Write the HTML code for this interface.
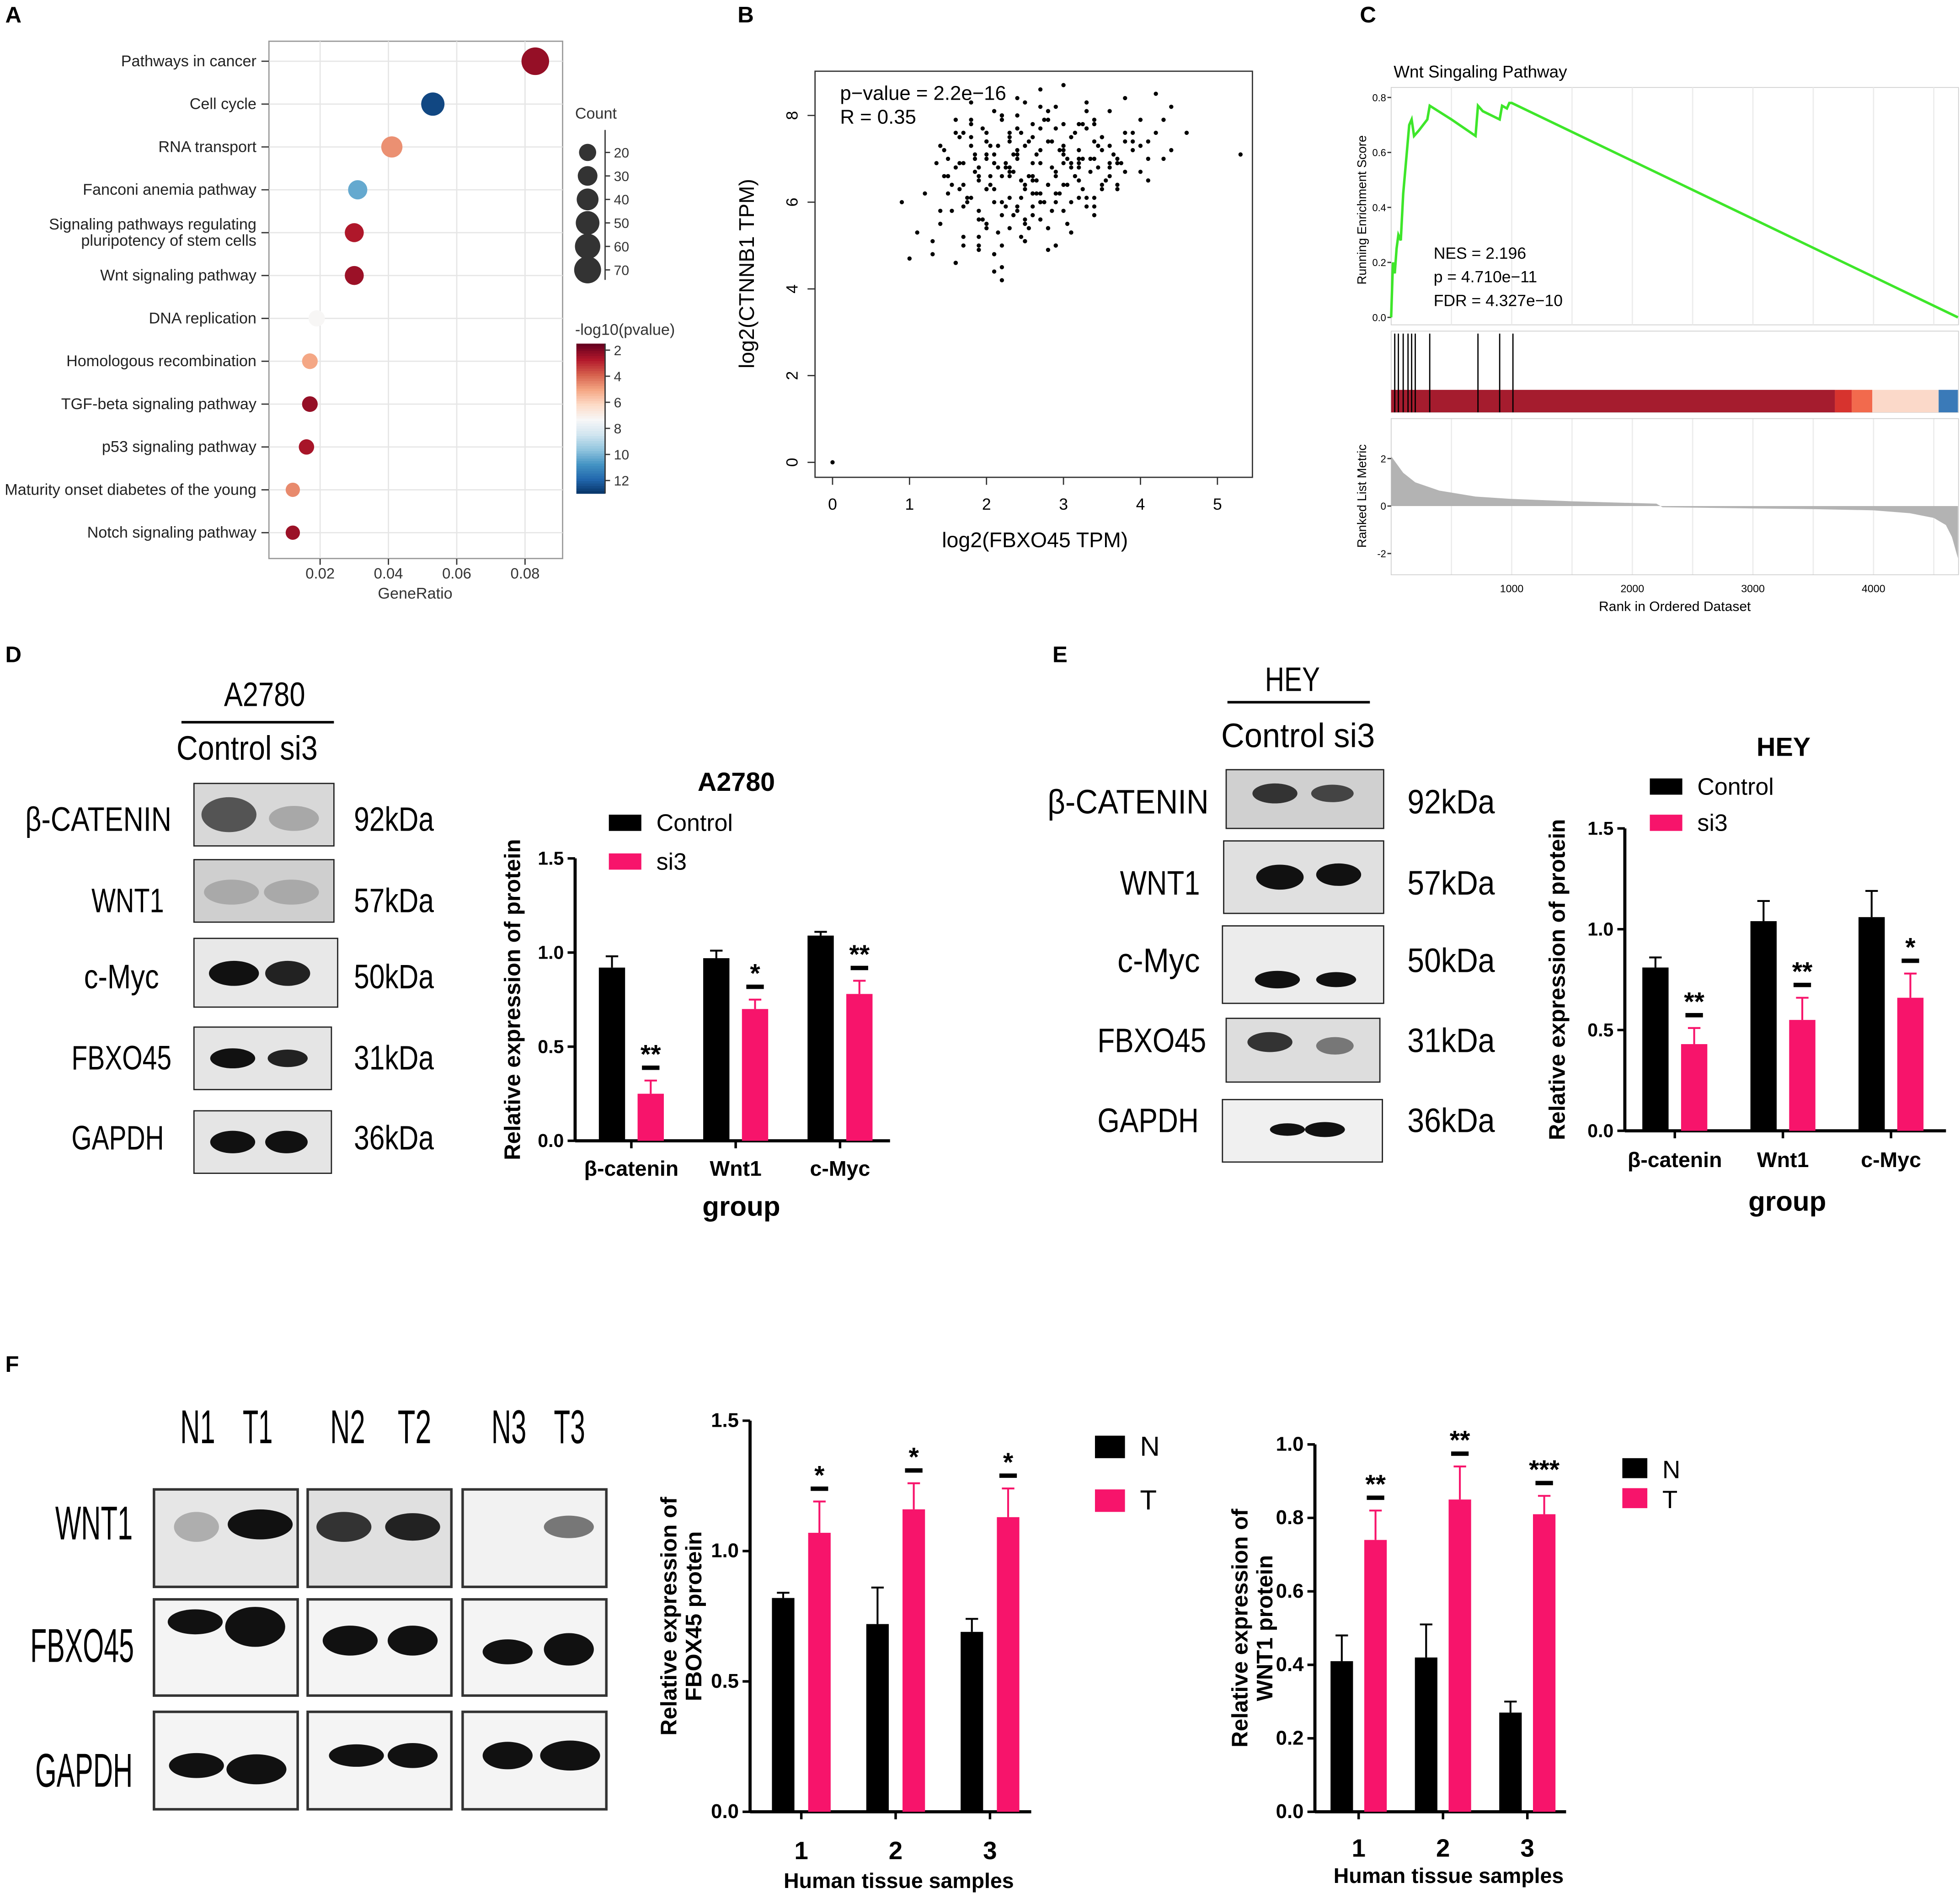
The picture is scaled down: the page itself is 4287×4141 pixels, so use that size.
<!DOCTYPE html>
<html><head><meta charset="utf-8">
<style>
html,body{margin:0;padding:0;background:#fff;}
svg{display:block;font-family:"Liberation Sans",sans-serif;}
.pl{font-weight:bold;font-size:18px;}
.blot{font-family:"Liberation Sans",sans-serif;font-size:27px;}
</style></head>
<body>
<svg id="fig" width="4287" height="4141" viewBox="0 0 1568 1515" xmlns="http://www.w3.org/2000/svg">
<text class="pl" x="4" y="18">A</text>
<text class="pl" x="590" y="18">B</text>
<text class="pl" x="1088" y="18">C</text>
<text class="pl" x="4" y="530">D</text>
<text class="pl" x="842" y="530">E</text>
<text class="pl" x="4" y="1098">F</text>
<g id="gA"></g>
<g id="gB"></g>
<g id="gC"></g>

<!-- D blots -->
<g class="blot">
<text x="179" y="565" textLength="65" lengthAdjust="spacingAndGlyphs">A2780</text>
<line x1="145" y1="578" x2="267" y2="578" stroke="#000" stroke-width="2"/>
<text x="141" y="608" textLength="113" lengthAdjust="spacingAndGlyphs">Control si3</text>
<text x="20" y="665" textLength="117" lengthAdjust="spacingAndGlyphs">β-CATENIN</text>
<text x="73" y="730" textLength="58" lengthAdjust="spacingAndGlyphs">WNT1</text>
<text x="67" y="791" textLength="60" lengthAdjust="spacingAndGlyphs">c-Myc</text>
<text x="57" y="856" textLength="80" lengthAdjust="spacingAndGlyphs">FBXO45</text>
<text x="57" y="920" textLength="74" lengthAdjust="spacingAndGlyphs">GAPDH</text>
<text x="283" y="665" textLength="64" lengthAdjust="spacingAndGlyphs">92kDa</text>
<text x="283" y="730" textLength="64" lengthAdjust="spacingAndGlyphs">57kDa</text>
<text x="283" y="791" textLength="64" lengthAdjust="spacingAndGlyphs">50kDa</text>
<text x="283" y="856" textLength="64" lengthAdjust="spacingAndGlyphs">31kDa</text>
<text x="283" y="920" textLength="64" lengthAdjust="spacingAndGlyphs">36kDa</text>
<rect x="155" y="627" width="112" height="50" fill="#d8d8d8" stroke="#222"/>
<ellipse cx="183" cy="652" rx="22" ry="14" fill="#333" opacity="0.8"/><ellipse cx="235" cy="655" rx="20" ry="10" fill="#777" opacity="0.5"/>
<rect x="155" y="688" width="112" height="50" fill="#cfcfcf" stroke="#222"/>
<ellipse cx="185" cy="714" rx="22" ry="10" fill="#999" opacity="0.7"/><ellipse cx="233" cy="714" rx="22" ry="10" fill="#999" opacity="0.7"/>
<rect x="155" y="751" width="115" height="55" fill="#e8e8e8" stroke="#222"/>
<ellipse cx="187" cy="779" rx="20" ry="10" fill="#111"/><ellipse cx="230" cy="779" rx="18" ry="10" fill="#222"/>
<rect x="155" y="822" width="110" height="50" fill="#e5e5e5" stroke="#222"/>
<ellipse cx="186" cy="847" rx="18" ry="8" fill="#111"/><ellipse cx="230" cy="847" rx="16" ry="7" fill="#222"/>
<rect x="155" y="889" width="110" height="50" fill="#e5e5e5" stroke="#222"/>
<ellipse cx="186" cy="914" rx="18" ry="9" fill="#111"/><ellipse cx="229" cy="914" rx="17" ry="9" fill="#111"/>
</g>
<!-- E blots -->
<g class="blot">
<text x="1012" y="553" textLength="44" lengthAdjust="spacingAndGlyphs">HEY</text>
<line x1="982" y1="562" x2="1096" y2="562" stroke="#000" stroke-width="2"/>
<text x="977" y="598" textLength="123" lengthAdjust="spacingAndGlyphs">Control si3</text>
<text x="838" y="651" textLength="129" lengthAdjust="spacingAndGlyphs">β-CATENIN</text>
<text x="896" y="716" textLength="64" lengthAdjust="spacingAndGlyphs">WNT1</text>
<text x="894" y="778" textLength="66" lengthAdjust="spacingAndGlyphs">c-Myc</text>
<text x="878" y="842" textLength="87" lengthAdjust="spacingAndGlyphs">FBXO45</text>
<text x="878" y="906" textLength="81" lengthAdjust="spacingAndGlyphs">GAPDH</text>
<text x="1126" y="651" textLength="70" lengthAdjust="spacingAndGlyphs">92kDa</text>
<text x="1126" y="716" textLength="70" lengthAdjust="spacingAndGlyphs">57kDa</text>
<text x="1126" y="778" textLength="70" lengthAdjust="spacingAndGlyphs">50kDa</text>
<text x="1126" y="842" textLength="70" lengthAdjust="spacingAndGlyphs">31kDa</text>
<text x="1126" y="906" textLength="70" lengthAdjust="spacingAndGlyphs">36kDa</text>
<rect x="981" y="616" width="126" height="47" fill="#d0d0d0" stroke="#222"/>
<ellipse cx="1020" cy="635" rx="18" ry="8" fill="#333"/><ellipse cx="1066" cy="635" rx="17" ry="7" fill="#444"/>
<rect x="979" y="673" width="128" height="58" fill="#e0e0e0" stroke="#222"/>
<ellipse cx="1024" cy="702" rx="19" ry="10" fill="#111"/><ellipse cx="1071" cy="700" rx="18" ry="9" fill="#111"/>
<rect x="978" y="741" width="129" height="62" fill="#ececec" stroke="#222"/>
<ellipse cx="1022" cy="784" rx="18" ry="7" fill="#111"/><ellipse cx="1069" cy="784" rx="16" ry="6" fill="#111"/>
<rect x="981" y="815" width="123" height="51" fill="#dddddd" stroke="#222"/>
<ellipse cx="1016" cy="834" rx="18" ry="8" fill="#333"/><ellipse cx="1068" cy="837" rx="15" ry="7" fill="#777"/>
<rect x="978" y="880" width="128" height="50" fill="#f0f0f0" stroke="#222"/>
<ellipse cx="1030" cy="904" rx="14" ry="5" fill="#111"/><ellipse cx="1060" cy="904" rx="16" ry="6" fill="#111"/>
</g>
<!-- F blots -->
<g class="blot" style="font-size:38px">
<text x="144" y="1155" textLength="28" lengthAdjust="spacingAndGlyphs">N1</text><text x="194" y="1155" textLength="24" lengthAdjust="spacingAndGlyphs">T1</text>
<text x="264" y="1155" textLength="28" lengthAdjust="spacingAndGlyphs">N2</text><text x="318" y="1155" textLength="27" lengthAdjust="spacingAndGlyphs">T2</text>
<text x="393" y="1155" textLength="28" lengthAdjust="spacingAndGlyphs">N3</text><text x="443" y="1155" textLength="25" lengthAdjust="spacingAndGlyphs">T3</text>
<text x="44" y="1232" textLength="62" lengthAdjust="spacingAndGlyphs">WNT1</text>
<text x="24" y="1330" textLength="83" lengthAdjust="spacingAndGlyphs">FBXO45</text>
<text x="28" y="1430" textLength="78" lengthAdjust="spacingAndGlyphs">GAPDH</text>
<rect x="123" y="1192" width="115" height="78" fill="#e6e6e6" stroke="#333" stroke-width="2"/>
<rect x="246" y="1192" width="115" height="78" fill="#e0e0e0" stroke="#333" stroke-width="2"/>
<rect x="370" y="1192" width="115" height="78" fill="#f2f2f2" stroke="#333" stroke-width="2"/>
<ellipse cx="157" cy="1222" rx="18" ry="12" fill="#888" opacity="0.6"/><ellipse cx="208" cy="1220" rx="26" ry="12" fill="#111"/>
<ellipse cx="275" cy="1222" rx="22" ry="12" fill="#333"/><ellipse cx="330" cy="1222" rx="22" ry="11" fill="#222"/>
<ellipse cx="455" cy="1222" rx="20" ry="9" fill="#777"/>
<rect x="123" y="1280" width="115" height="77" fill="#f4f4f4" stroke="#333" stroke-width="2"/>
<rect x="246" y="1280" width="115" height="77" fill="#f4f4f4" stroke="#333" stroke-width="2"/>
<rect x="370" y="1280" width="115" height="77" fill="#f4f4f4" stroke="#333" stroke-width="2"/>
<ellipse cx="156" cy="1298" rx="22" ry="10" fill="#111"/><ellipse cx="204" cy="1302" rx="24" ry="16" fill="#111"/>
<ellipse cx="280" cy="1313" rx="22" ry="12" fill="#111"/><ellipse cx="330" cy="1313" rx="20" ry="12" fill="#111"/>
<ellipse cx="406" cy="1322" rx="20" ry="10" fill="#111"/><ellipse cx="455" cy="1320" rx="20" ry="13" fill="#111"/>
<rect x="123" y="1370" width="115" height="78" fill="#f4f4f4" stroke="#333" stroke-width="2"/>
<rect x="246" y="1370" width="115" height="78" fill="#f4f4f4" stroke="#333" stroke-width="2"/>
<rect x="370" y="1370" width="115" height="78" fill="#f4f4f4" stroke="#333" stroke-width="2"/>
<ellipse cx="157" cy="1413" rx="22" ry="10" fill="#111"/><ellipse cx="205" cy="1416" rx="24" ry="12" fill="#111"/>
<ellipse cx="285" cy="1405" rx="22" ry="9" fill="#111"/><ellipse cx="330" cy="1405" rx="20" ry="10" fill="#111"/>
<ellipse cx="406" cy="1405" rx="20" ry="11" fill="#111"/><ellipse cx="456" cy="1405" rx="24" ry="12" fill="#111"/>
</g>
<g id="gD"></g>
<g id="gE"></g>
<g id="gF1"></g>
<g id="gF2"></g>
</svg>
<script>
const NS="http://www.w3.org/2000/svg";
function mk(tag,attrs,parent,txt){const e=document.createElementNS(NS,tag);for(const k in attrs)e.setAttribute(k,attrs[k]);if(txt!==undefined)e.textContent=txt;parent.appendChild(e);return e;}

// ---------- Panel A data ----------
const aPathways=["Pathways in cancer","Cell cycle","RNA transport","Fanconi anemia pathway","Signaling pathways regulating|pluripotency of stem cells","Wnt signaling pathway","DNA replication","Homologous recombination","TGF-beta signaling pathway","p53 signaling pathway","Maturity onset diabetes of the young","Notch signaling pathway"];
const aGeneRatio=[0.083,0.053,0.041,0.031,0.030,0.030,0.019,0.017,0.017,0.016,0.012,0.012];
const aCount=[75,48,37,28,27,27,17,15,15,14,11,11];
const aLogP=[2.2,12.5,4.6,10.2,2.6,2.3,7.2,5.0,2.2,2.5,4.5,2.3];
const aXTicks=[0.02,0.04,0.06,0.08];
const aCountTicks=[20,30,40,50,60,70];
const aColorTicks=[2,4,6,8,10,12];
(function(){
 const g=document.getElementById('gA');
 const x=v=>201.3+v*2733, y=i=>49+i*34.3, r=c=>2.4+Math.sqrt(c)*1.0;
 const cols=[[103,0,31],[178,24,43],[214,96,77],[244,165,130],[253,219,199],[247,247,247],[209,229,240],[146,197,222],[67,147,195],[33,102,172],[5,48,97]];
 const cmap=v=>{let t=Math.max(0,Math.min(1,(v-1.5)/11.5))*(cols.length-1);const i=Math.min(cols.length-2,Math.floor(t)),f=t-i;const c=cols[i].map((a,k)=>Math.round(a+(cols[i+1][k]-a)*f));return `rgb(${c})`;};
 mk('rect',{x:215,y:33,width:235,height:414,fill:'#fff',stroke:'#999','stroke-width':1},g);
 aPathways.forEach((p,i)=>{mk('line',{x1:215,x2:450,y1:y(i),y2:y(i),stroke:'#e6e6e6'},g);});
 aXTicks.forEach(t=>{mk('line',{x1:x(t),x2:x(t),y1:33,y2:447,stroke:'#e6e6e6'},g);
  mk('line',{x1:x(t),x2:x(t),y1:447,y2:452,stroke:'#333'},g);
  const tl=mk('text',{x:x(t),y:463,'font-size':12,'text-anchor':'middle',fill:'#333'},g,String(t));
  
  });
 const xt=mk('text',{x:332,y:479,'font-size':12.5,'text-anchor':'middle',fill:'#333'},g,'GeneRatio');
 
 
 aPathways.forEach((p,i)=>{
  const parts=p.split('|');
  parts.forEach((s,k)=>{const t=mk('text',{x:205,y:y(i)+4+(parts.length>1?(k-0.5)*13:0),'font-size':12.5,'text-anchor':'end',fill:'#222'},g,s);
   
   });
  mk('line',{x1:209,x2:215,y1:y(i),y2:y(i),stroke:'#333'},g);
  const c=mk('circle',{cx:x(aGeneRatio[i]),cy:y(i),r:r(aCount[i]),fill:cmap(aLogP[i])},g);
  
  
 });
 mk('text',{x:460,y:95,'font-size':12.5,fill:'#333'},g,'Count');
 aCountTicks.forEach((c,i)=>{const yy=122+i*18.8;
  const d=mk('circle',{cx:470,cy:yy,r:r(c),fill:'#333'},g);
  
  
  mk('line',{x1:484,x2:488,y1:yy,y2:yy,stroke:'#333'},g);
  mk('text',{x:491,y:yy+4,'font-size':11,fill:'#333'},g,String(c));});
 mk('line',{x1:484,x2:484,y1:104,y2:224,stroke:'#333'},g);
 mk('text',{x:460,y:268,'font-size':12.5,fill:'#333'},g,'-log10(pvalue)');
 for(let k=0;k<60;k++){const v=1.5+k*(11.5/60);mk('rect',{x:461,y:275+k*2,width:23,height:2.2,fill:cmap(v)},g);}
 aColorTicks.forEach(v=>{const yy=275+(v-1.5)/11.5*120;mk('line',{x1:484,x2:488,y1:yy,y2:yy,stroke:'#333'},g);
  mk('text',{x:491,y:yy+4,'font-size':11,fill:'#333'},g,String(v));});
 mk('line',{x1:484,x2:484,y1:275,y2:395,stroke:'#333'},g);
})();

// ---------- Panel B data ----------
const bFBXO45=[0,5.3,1.2,1.4,1.5,1.6,1.7,1.8,1.9,2.0,2.1,2.2,2.3,2.4,2.5,2.6,2.7,2.8,2.9,3.0,3.1,3.2,3.3,3.4,3.5,3.6,3.7,3.8,3.9,4.0,1.3,1.6,1.9,2.2,2.5,2.8,3.1,3.4,3.7,4.0,1.5,1.8,2.1,2.4,2.7,3.0,3.3,3.6,3.9,4.2,1.7,2.0,2.3,2.6,2.9,3.2,3.5,3.8,4.1,4.4,0.9,1.1,1.4,1.7,2.0,2.3,2.6,2.9,3.2,3.5,1.6,1.9,2.2,2.5,2.8,3.1,3.4,3.7,1.8,2.1,2.4,2.7,3.0,3.3,3.6,2.0,2.3,2.6,2.9,3.2,3.5,2.2,2.5,2.8,3.1,3.4,2.4,2.7,3.0,1.0,1.3,2.1,2.9,3.7,4.3,4.6,2.6,1.5,2.0,3.8,2.3,2.8,1.9,3.3,2.5,1.7,3.0,2.2,2.7,3.6,1.4,4.1,2.0,2.4,3.1,1.8,2.6,3.4,2.9,2.1,
 1.35,1.45,1.55,1.65,1.75,1.85,1.95,2.05,2.15,2.25,2.35,2.45,2.55,2.65,2.75,2.85,2.95,3.05,3.15,3.25,3.35,3.45,3.55,3.65,3.75,1.55,1.65,1.75,1.85,1.95,2.05,2.15,2.25,2.35,2.45,2.55,2.65,2.75,2.85,2.95,3.05,3.15,3.25,3.35,3.45,1.6,1.8,2.0,2.2,2.4,2.6,2.8,3.0,3.2,3.4,1.7,1.9,2.1,2.3,2.5,2.7,2.9,3.1,3.3,1.85,2.05,2.25,2.45,2.65,2.85,3.05,3.25,1.45,1.65,1.9,2.1,2.35,2.55,2.8,3.0,3.2,2.0,2.2,2.4,2.6,2.8,3.0,2.3,2.5,2.7,2.9,1.6,1.8,2.0,2.2,2.4,2.6,1.5,1.7,1.9,2.1,2.3,2.5,2.7,3.5,3.7,3.9,4.1,4.3,3.6,3.8,4.0,4.2,4.4,3.2,3.4,2.2,2.45,2.7,1.9,2.15,2.4];
const bCTNNB1=[0,7.1,6.2,5.5,7.0,6.8,5.9,7.3,6.5,7.6,6.0,7.9,6.7,7.2,6.3,7.8,6.9,7.4,6.6,7.1,7.5,6.8,7.7,7.0,6.4,7.3,6.9,7.6,7.2,6.7,4.8,4.6,5.2,5.0,5.6,5.4,6.0,5.9,6.3,7.9,6.6,6.1,6.9,5.8,6.2,6.4,6.1,6.8,7.4,8.5,7.6,7.1,7.4,6.9,7.7,7.8,7.2,8.4,7.0,7.2,6.0,5.3,5.8,6.4,5.5,6.1,5.9,6.7,6.5,6.3,4.6,4.9,4.5,5.1,4.9,5.3,5.7,6.9,7.9,8.1,8.0,8.2,7.8,8.3,8.1,7.0,6.6,6.2,6.0,6.9,7.5,5.7,5.5,6.4,6.8,7.9,8.4,8.6,7.3,4.7,5.1,4.4,5.0,6.4,7.0,7.6,6.2,6.6,5.4,7.4,7.6,7.9,5.8,8.1,8.3,5.0,8.7,4.2,6.0,6.6,7.3,6.5,6.3,7.1,6.9,7.5,6.6,7.8,6.2,6.9,
 6.9,7.2,6.4,7.5,6.1,7.0,7.7,6.6,7.3,5.9,7.1,6.5,7.4,6.2,7.9,6.8,7.2,6.4,7.6,7.0,6.7,7.3,6.5,7.1,6.9,5.8,6.3,6.0,6.7,5.6,6.4,5.3,6.8,5.7,6.1,5.4,6.5,6.0,5.8,6.2,5.5,6.6,6.3,7.0,6.8,7.6,7.8,7.4,8.0,7.7,7.5,8.1,7.2,7.0,7.4,5.2,5.0,4.8,5.4,5.1,5.6,5.0,5.3,5.9,7.1,7.3,6.9,7.6,7.1,7.4,7.0,7.8,6.6,6.9,6.8,6.3,6.7,6.6,6.4,6.9,6.1,6.3,6.0,5.9,5.7,5.4,5.8,7.5,7.3,7.7,8.2,7.9,8.3,7.4,8.0,7.7,6.5,6.2,6.9,6.6,7.1,6.8,6.4,7.2,7.5,7.0,7.6,7.4,7.9,6.9,6.7,7.3,7.6,8.2,7.2,6.1,6.6,5.2,6.0,5.6,6.8,7.0];
const bXTicks=[0,1,2,3,4,5];
const bYTicks=[0,2,4,6,8];
(function(){
 const g=document.getElementById('gB');
 const x=v=>666+v*61.6, y=v=>370-v*34.7;
 mk('rect',{x:652,y:57,width:350,height:325,fill:'none',stroke:'#333'},g);
 bXTicks.forEach(t=>{mk('line',{x1:x(t),x2:x(t),y1:382,y2:388,stroke:'#333'},g);mk('text',{x:x(t),y:408,'font-size':13,'text-anchor':'middle'},g,String(t));});
 bYTicks.forEach(t=>{mk('line',{x1:646,x2:652,y1:y(t),y2:y(t),stroke:'#333'},g);mk('text',{x:634,y:y(t),'font-size':13,'text-anchor':'middle',transform:`rotate(-90 634 ${y(t)})`,dy:4},g,String(t));});
 bFBXO45.forEach((v,i)=>{const c=mk('circle',{cx:x(v),cy:y(bCTNNB1[i]),r:1.7,fill:'#000'},g);
  
  });
 mk('text',{x:672,y:80,'font-size':16},g,'p−value = 2.2e−16');
 mk('text',{x:672,y:99,'font-size':16},g,'R = 0.35');
 const xl=mk('text',{x:828,y:438,'font-size':17,'text-anchor':'middle'},g,'log2(FBXO45 TPM)');
 
 
 const yl=mk('text',{x:603,y:219,'font-size':17,'text-anchor':'middle',transform:'rotate(-90 603 219)'},g,'log2(CTNNB1 TPM)');
 
 
})();

// ---------- Panel C data ----------
const cRank=[0,15,30,45,60,80,100,130,150,170,190,230,300,320,500,700,720,760,900,920,960,980,1000,4700];
const cES=[0,0.2,0.16,0.25,0.3,0.28,0.45,0.6,0.7,0.72,0.66,0.68,0.72,0.77,0.72,0.66,0.77,0.75,0.72,0.77,0.76,0.78,0.78,0.0];
const cHits=[30,60,100,140,170,200,320,720,900,1010];
const cMetricRank=[0,100,200,400,700,1000,1500,2200,2250,3000,3500,4000,4300,4500,4600,4650,4700];
const cMetric=[2.1,1.4,1.0,0.65,0.4,0.3,0.2,0.1,-0.05,-0.1,-0.13,-0.18,-0.3,-0.5,-0.8,-1.3,-2.2];
const cRankTicks=[1000,2000,3000,4000];
const cESTicks=[0,0.2,0.4,0.6,0.8];
(function(){
 const g=document.getElementById('gC');
 const x=v=>1113+v*0.0965, y=v=>254-v*220, ym=v=>405-v*19;
 mk('text',{x:1115,y:62,'font-size':13.5},g,'Wnt Singaling Pathway');
 mk('rect',{x:1113,y:70,width:454,height:190,fill:'#fff',stroke:'#ccc','stroke-width':0.6},g);
 for(let r=500;r<4700;r+=500){mk('line',{x1:x(r),x2:x(r),y1:70,y2:260,stroke:'#ececec'},g);mk('line',{x1:x(r),x2:x(r),y1:335,y2:460,stroke:'#ececec'},g);}
 cESTicks.forEach(t=>{mk('line',{x1:1110,x2:1113,y1:y(t),y2:y(t),stroke:'#333'},g);mk('text',{x:1109,y:y(t)+3,'font-size':8,'text-anchor':'end'},g,t.toFixed(1));});
 const pl=mk('polyline',{points:cRank.map((r,i)=>x(r)+','+y(cES[i])).join(' '),fill:'none',stroke:'#3ee62a','stroke-width':2},g);
 
 
 mk('text',{x:1147,y:207,'font-size':13},g,'NES = 2.196');
 mk('text',{x:1147,y:226,'font-size':13},g,'p = 4.710e−11');
 mk('text',{x:1147,y:245,'font-size':13},g,'FDR = 4.327e−10');
 mk('text',{x:1093,y:168,'font-size':10,'text-anchor':'middle',transform:'rotate(-90 1093 168)'},g,'Running Enrichment Score');
 mk('rect',{x:1113,y:265,width:454,height:65,fill:'#fff',stroke:'#ccc','stroke-width':0.6},g);
 const bands=[[0,3680,'#a51c2e'],[3680,3820,'#d7332e'],[3820,3990,'#f26a4d'],[3990,4540,'#fbd9c9'],[4540,4700,'#3a7ab8']];
 bands.forEach(b=>mk('rect',{x:x(b[0]),y:312,width:x(b[1])-x(b[0]),height:18,fill:b[2]},g));
 cHits.forEach(h=>{const l=mk('line',{x1:x(h),x2:x(h),y1:267,y2:330,stroke:'#000','stroke-width':1},g);
  
  });
 mk('rect',{x:1113,y:335,width:454,height:125,fill:'none',stroke:'#ccc','stroke-width':0.6},g);
 const pts=cMetricRank.map((r,i)=>x(r)+','+ym(cMetric[i]));
 const ar=mk('polygon',{points:x(0)+','+ym(0)+' '+pts.join(' ')+' '+x(4700)+','+ym(0),fill:'#b3b3b3'},g);
 
 
 [-2,0,2].forEach(t=>{mk('line',{x1:1110,x2:1113,y1:ym(t),y2:ym(t),stroke:'#333'},g);mk('text',{x:1109,y:ym(t)+3,'font-size':8,'text-anchor':'end'},g,String(t));});
 mk('text',{x:1093,y:397,'font-size':10,'text-anchor':'middle',transform:'rotate(-90 1093 397)'},g,'Ranked List Metric');
 cRankTicks.forEach(t=>mk('text',{x:x(t),y:474,'font-size':8.5,'text-anchor':'middle'},g,String(t)));
 mk('text',{x:1340,y:489,'font-size':11,'text-anchor':'middle'},g,'Rank in Ordered Dataset');
})();

// ---------- bar charts data ----------
const dGroups=["β-catenin","Wnt1","c-Myc"];
const dControl=[0.92,0.97,1.09];
const dControlErr=[0.06,0.04,0.02];
const dSi3=[0.25,0.70,0.78];
const dSi3Err=[0.07,0.05,0.07];
const dStars=["**","*","**"];
const dYTicks=[0.0,0.5,1.0,1.5];
const eControl=[0.81,1.04,1.06];
const eControlErr=[0.05,0.10,0.13];
const eSi3=[0.43,0.55,0.66];
const eSi3Err=[0.08,0.11,0.12];
const eStars=["**","**","*"];
const fSamples=["1","2","3"];
const f1N=[0.82,0.72,0.69];
const f1NErr=[0.02,0.14,0.05];
const f1T=[1.07,1.16,1.13];
const f1TErr=[0.12,0.10,0.11];
const f1Stars=["*","*","*"];
const f1YTicks=[0.0,0.5,1.0,1.5];
const f2N=[0.41,0.42,0.27];
const f2NErr=[0.07,0.09,0.03];
const f2T=[0.74,0.85,0.81];
const f2TErr=[0.08,0.09,0.05];
const f2Stars=["**","**","***"];
const f2YTicks=[0.0,0.2,0.4,0.6,0.8,1.0];

function barChart(id,o){
 const g=document.getElementById(id);
 const y=v=>o.y0-(v-0)/o.ymax*(o.y0-o.y1);
 const PINK='#f7146b';
 mk('line',{x1:o.x0,x2:o.x0,y1:o.y1,y2:o.y0,stroke:'#000','stroke-width':2.5},g);
 mk('line',{x1:o.x0,x2:o.x2,y1:o.y0,y2:o.y0,stroke:'#000','stroke-width':2.5},g);
 o.ticks.forEach(t=>{mk('line',{x1:o.x0-6,x2:o.x0,y1:y(t),y2:y(t),stroke:'#000','stroke-width':2},g);
  mk('text',{x:o.x0-9,y:y(t)+5,'font-size':o.tfs,'font-weight':'bold','text-anchor':'end'},g,t.toFixed(1));});
 o.groups.forEach((gname,i)=>{
  const cx=o.gx0+i*o.gstep;
  [[o.a,o.ae,'#000',cx-o.off],[o.b,o.be,PINK,cx+o.off]].forEach((s,k)=>{
   const v=s[0][i],e=s[1][i],bx=s[3];
   const b=mk('rect',{x:bx-o.bw/2,y:y(v),width:o.bw,height:y(0)-y(v),fill:s[2]},g);
   
   
   mk('line',{x1:bx,x2:bx,y1:y(v),y2:y(v+e),stroke:s[2],'stroke-width':1.5},g);
   mk('line',{x1:bx-5,x2:bx+5,y1:y(v+e),y2:y(v+e),stroke:s[2],'stroke-width':1.5},g);
  });
  const top=y(o.b[i]+o.be[i]);
  mk('rect',{x:cx+o.off-7,y:top-12,width:14,height:3.5,fill:'#000'},g);
  mk('text',{x:cx+o.off,y:top-14,'font-size':21,'font-weight':'bold','text-anchor':'middle'},g,o.stars[i]);
  mk('line',{x1:cx,x2:cx,y1:o.y0,y2:o.y0+6,stroke:'#000','stroke-width':2},g);
  mk('text',{x:cx,y:o.y0+o.glabdy,'font-size':o.gfs,'font-weight':'bold','text-anchor':'middle'},g,gname);
 });
 const xt=mk('text',{x:o.xtx,y:o.xty,'font-size':o.xtfs,'font-weight':'bold','text-anchor':'middle'},g,o.xtitle);
 
 
 o.ytitle.forEach((s,k)=>{const yy=(o.y0+o.y1)/2;const xx=o.ytx+k*20;
  const t=mk('text',{x:xx,y:yy,'font-size':o.ytfs,'font-weight':'bold','text-anchor':'middle',transform:`rotate(-90 ${xx} ${yy})`},g,s);
  
  });
 if(o.title){mk('text',{x:o.title[1],y:o.title[2],'font-size':21,'font-weight':'bold','text-anchor':'middle'},g,o.title[0]);}
 o.legend.forEach((l,k)=>{const ly=o.leg[1]+k*o.leg[2];
  const r=mk('rect',{x:o.leg[0],y:ly-8,width:o.leg[3],height:o.leg[4],fill:k?PINK:'#000'},g);
  
  
  mk('text',{x:o.leg[0]+o.leg[3]+12,y:ly+o.leg[5],'font-size':o.leg[6],'font-family':'Liberation Sans'},g,l);});
}
barChart('gD',{x0:460,x2:712,y0:913,y1:687,ymax:1.5,ticks:dYTicks,tfs:15,groups:dGroups,gx0:505,gstep:83.5,off:15.5,bw:21,a:dControl,ae:dControlErr,b:dSi3,be:dSi3Err,stars:dStars,aname:'control',bname:'si3',glabdy:28,gfs:17,xtitle:'group',xtx:593,xty:973,xtfs:22,ytitle:['Relative expression of  protein'],ytx:416,ytfs:18,title:['A2780',589,633],legend:['Control','si3'],leg:[487,660,31,26,13,5,19]});
barChart('gE',{x0:1300,x2:1557,y0:905,y1:663,ymax:1.5,ticks:dYTicks,tfs:15,groups:dGroups,gx0:1340,gstep:86.5,off:15.5,bw:21,a:eControl,ae:eControlErr,b:eSi3,be:eSi3Err,stars:eStars,aname:'control',bname:'si3',glabdy:29,gfs:17,xtitle:'group',xtx:1430,xty:969,xtfs:22,ytitle:['Relative expression of  protein'],ytx:1252,ytfs:18,title:['HEY',1427,605],legend:['Control','si3'],leg:[1320,631,29,26,13,5,19]});
barChart('gF1',{x0:600,x2:825,y0:1450,y1:1137,ymax:1.5,ticks:f1YTicks,tfs:16,groups:fSamples,gx0:641,gstep:75.5,off:14.5,bw:18,a:f1N,ae:f1NErr,b:f1T,be:f1TErr,stars:f1Stars,aname:'n',bname:'t',glabdy:38,gfs:20,xtitle:'Human tissue samples',xtx:719,xty:1511,xtfs:17,ytitle:['Relative expression of','FBOX45 protein'],ytx:541,ytfs:18,legend:['N','T'],leg:[876,1157,43,24,18,8,22]});
barChart('gF2',{x0:1052,x2:1253,y0:1450,y1:1156,ymax:1.0,ticks:f2YTicks,tfs:16,groups:fSamples,gx0:1087,gstep:67.5,off:13.5,bw:18,a:f2N,ae:f2NErr,b:f2T,be:f2TErr,stars:f2Stars,aname:'n',bname:'t',glabdy:36,gfs:20,xtitle:'Human tissue samples',xtx:1159,xty:1507,xtfs:17,ytitle:['Relative expression of','WNT1 protein'],ytx:998,ytfs:18,legend:['N','T'],leg:[1298,1175,24,20,16,8,20]});
</script>
</body></html>
